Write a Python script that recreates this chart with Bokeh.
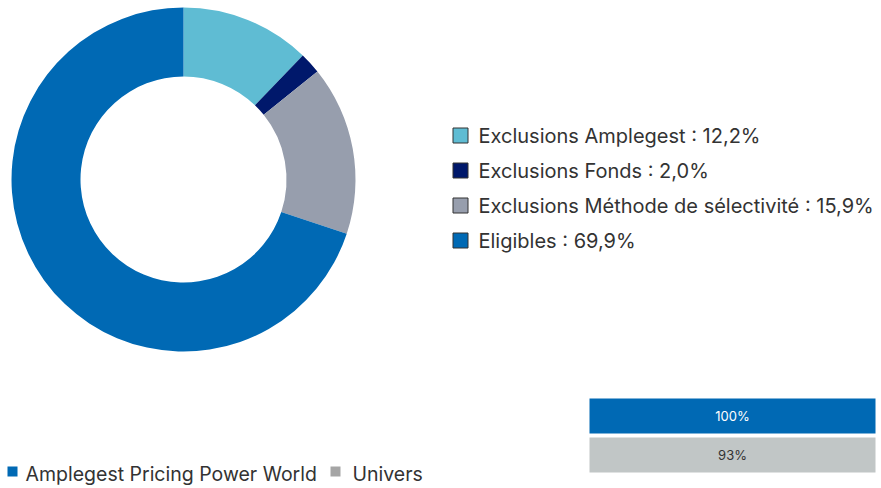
import numpy as np
from bokeh.plotting import figure
from bokeh.models import Range1d, ColumnDataSource
from bokeh.core.properties import value
from bokeh.embed import file_html
from bokeh.resources import INLINE

# ---- data ----
categories = ["Exclusions Amplegest", "Exclusions Fonds", "Exclusions Méthode de sélectivité", "Eligibles"]
shares = [12.2, 2.0, 15.9, 69.9]
colors = ["#5FBCD3", "#00186B", "#979EAD", "#0069B4"]

bar_labels = ["Amplegest Pricing Power  World", "Univers"]
bar_values = [100, 93]
bar_colors = ["#0069B4", "#C1C6C6"]
bar_text_colors = ["#FFFFFF", "#333333"]
legend2_colors = ["#0069B4", "#A5A5A5"]

FONT = "Inter"
W, H = 881, 488

p = figure(width=W, height=H, output_backend="svg", toolbar_location=None,
           x_range=Range1d(0, W), y_range=Range1d(0, H), min_border=0)
p.axis.visible = False
p.grid.visible = False
p.outline_line_color = None
p.background_fill_color = "white"

def Y(img_y):
    return H - img_y

# ---- donut ----
vals = np.array(shares)
cum = np.cumsum(vals)
before = cum - vals
start = np.pi / 2 - 2 * np.pi * before / vals.sum()
end = np.pi / 2 - 2 * np.pi * cum / vals.sum()
src = ColumnDataSource(dict(start=start, end=end, color=colors))
p.annular_wedge(x=183, y=Y(179), inner_radius=103, outer_radius=172, start_angle="start", end_angle="end",
                direction="clock", fill_color="color", line_color=None, source=src)

# ---- legend right ----
n = len(categories)
ly = [Y(135 + 35 * i) for i in range(n)]
labels = [f"{c} : {str(v).replace('.', ',')}%" for c, v in zip(categories, shares)]
p.scatter(x=[460] * n, y=ly, marker="square", size=15, fill_color=colors, line_color="#333333", line_width=1)
p.text(x=[478] * n, y=ly, text=labels, text_font=value(FONT), text_font_size="20px",
       text_color="#333333", text_baseline="middle", text_align="left")

# ---- bars ----
bx = [589, 589]
by_top = [398, 437]
bh = 35
bw = 286
bsrc = ColumnDataSource(dict(
    x=[b + bw / 2 for b in bx],
    y=[Y(t + bh / 2) for t in by_top],
    color=bar_colors,
    txt=[f"{v}%" for v in bar_values],
    tcol=bar_text_colors,
))
p.rect(x="x", y="y", width=bw, height=bh, fill_color="color", line_color=None, source=bsrc)
p.text(x="x", y="y", text="txt", text_color="tcol", text_font=value(FONT), text_font_size="13px",
       text_align="center", text_baseline="middle", source=bsrc)

# ---- bottom legend ----
p.scatter(x=[12, 335], y=[Y(471)] * 2, marker="square", size=10, fill_color=legend2_colors, line_color=None)
p.text(x=[25, 352], y=[Y(473)] * 2, text=bar_labels, text_font=value(FONT), text_font_size="19.5px",
       text_color="#333333", text_baseline="middle", text_align="left")

open("out.html", "w").write(file_html(p, INLINE))
